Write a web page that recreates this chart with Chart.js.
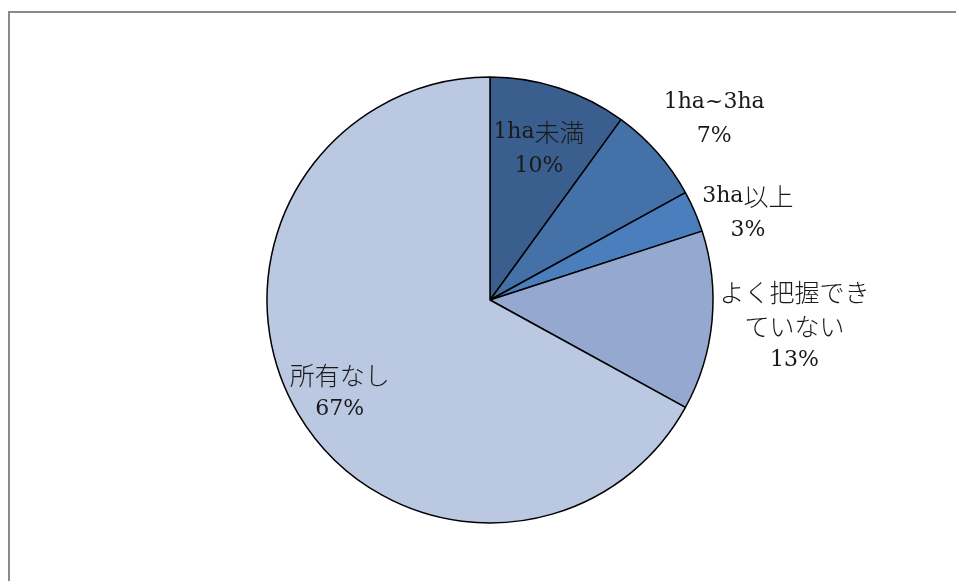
<!DOCTYPE html>
<html>
<head>
<meta charset="utf-8">
<script src="https://cdn.jsdelivr.net/npm/chart.js@4/dist/chart.umd.min.js"></script>
<style>
  html, body { margin: 0; padding: 0; background: #fff; overflow: hidden; }
  #wrap { position: relative; width: 956px; height: 581px; }
  #frame {
    position: absolute; left: 8px; top: 11px; width: 1000px; height: 600px;
    border-left: 2px solid #8a8a8a; border-top: 2px solid #8a8a8a;
  }
  canvas { position: absolute; left: 0; top: 0; }
</style>
</head>
<body>
<div id="wrap">
  <div id="frame"></div>
  <canvas id="pie" width="956" height="581"></canvas>
</div>
<script>
// 農地の所有面積
const categories = ['1ha未満', '1ha~3ha', '3ha以上', 'よく把握できていない', '所有なし'];
const labelLines = [['1ha未満'], ['1ha~3ha'], ['3ha以上'], ['よく把握でき', 'ていない'], ['所有なし']];
const shares = [10, 7, 3, 13, 67];
const sliceColors = ['#3a5e8d', '#4472a8', '#4a7ebd', '#95a9d0', '#bac8e1'];

// label placement: distance as fraction of radius, and angle nudge in degrees
const labelRadius = [0.71, 1.29, 1.22, 1.37, 0.79];
const labelNudge = [0, 2.6, 4.8, -0.5, -0.9];

const latinFont = '22px "DejaVu Serif", serif';
const jpFont = '300 25px "Noto Sans CJK JP", sans-serif';

// split a line into latin / japanese runs so each gets its own font
function runs(text) {
  const out = [];
  for (const ch of text) {
    const jp = ch.charCodeAt(0) > 0x2fff;
    const last = out[out.length - 1];
    if (last && last.jp === jp) last.t += ch;
    else out.push({ t: ch, jp });
  }
  return out;
}

function drawMixed(ctx, text, cx, cy) {
  const parts = runs(text);
  let total = 0;
  parts.forEach(p => {
    ctx.font = p.jp ? jpFont : latinFont;
    p.w = ctx.measureText(p.t).width;
    total += p.w;
  });
  let x = cx - total / 2;
  parts.forEach(p => {
    ctx.font = p.jp ? jpFont : latinFont;
    ctx.fillText(p.t, x, cy);
    x += p.w;
  });
}

const pieLabels = {
  id: 'pieLabels',
  afterDatasetsDraw(chart) {
    const ctx = chart.ctx;
    const meta = chart.getDatasetMeta(0);
    ctx.save();
    ctx.fillStyle = '#1a1a1a';
    ctx.textAlign = 'left';
    ctx.textBaseline = 'middle';
    const lineH = 34;
    meta.data.forEach((arc, i) => {
      const mid = (arc.startAngle + arc.endAngle) / 2 + labelNudge[i] * Math.PI / 180;
      const r = arc.outerRadius * labelRadius[i];
      const cx = arc.x + Math.cos(mid) * r;
      const cy = arc.y + Math.sin(mid) * r;
      const lines = labelLines[i].concat([shares[i] + '%']);
      const top = cy - (lines.length - 1) * lineH / 2;
      lines.forEach((t, j) => drawMixed(ctx, t, cx, top + j * lineH));
    });
    ctx.restore();
  }
};

new Chart(document.getElementById('pie').getContext('2d'), {
  type: 'pie',
  data: {
    labels: categories,
    datasets: [{
      data: shares,
      backgroundColor: sliceColors,
      borderColor: '#000',
      borderWidth: 1.5,
      radius: 223
    }]
  },
  options: {
    responsive: false,
    animation: false,
    layout: { padding: { left: 24, right: 0, top: 19, bottom: 0 } },
    plugins: {
      legend: { display: false },
      tooltip: { enabled: false }
    }
  },
  plugins: [pieLabels]
});
</script>
</body>
</html>
